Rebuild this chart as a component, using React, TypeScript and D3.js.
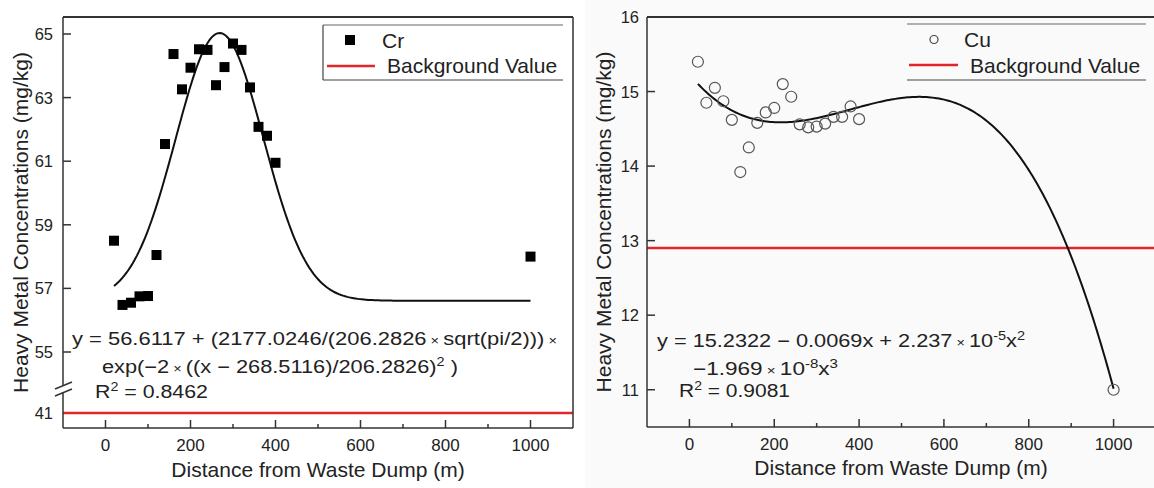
import React from "react";
import * as d3 from "d3";

// ---- Data ----
const crDistance = [20, 40, 60, 80, 100, 120, 140, 160, 180, 200, 220, 240, 260, 280, 300, 320, 340, 360, 380, 400, 1000];
const crValue = [58.5, 56.48, 56.55, 56.75, 56.76, 58.05, 61.54, 64.37, 63.26, 63.94, 64.52, 64.5, 63.39, 63.96, 64.7, 64.5, 63.32, 62.08, 61.8, 60.95, 58.0];
const cuDistance = [20, 40, 60, 80, 100, 120, 140, 160, 180, 200, 220, 240, 260, 280, 300, 320, 340, 360, 380, 400, 1000];
const cuValue = [15.4, 14.85, 15.05, 14.87, 14.62, 13.92, 14.25, 14.58, 14.72, 14.78, 15.1, 14.93, 14.56, 14.52, 14.53, 14.57, 14.66, 14.66, 14.8, 14.63, 11.0];
const xTicks = [0, 200, 400, 600, 800, 1000];
const xMinorTicks = [100, 300, 500, 700, 900];
const crYTicks = [55, 57, 59, 61, 63, 65];
const crLowTicks = [41];
const cuYTicks = [11, 12, 13, 14, 15, 16];
const crBackground = 41;
const cuBackground = 12.9;
// fitted model coefficients (as printed on the chart)
const crFit = [56.6117, 2177.0246, 206.2826, 268.5116];
const cuFit = [15.2322, -0.0069, 2.237e-5, -1.969e-8];
const fitRange = [20, 1000];

const FONT = "'Liberation Sans', Arial, Helvetica, sans-serif";
const TXT = "#222";
const AX = "#333";

function sampleFit(f: (x: number) => number) {
  const pts: [number, number][] = [];
  for (let i = 0; i <= 200; i++) {
    const x = fitRange[0] + ((fitRange[1] - fitRange[0]) * i) / 200;
    pts.push([x, f(x)]);
  }
  return pts;
}

const crModel = (x: number) =>
  crFit[0] + (crFit[1] / (crFit[2] * Math.sqrt(Math.PI / 2))) * Math.exp(-2 * Math.pow((x - crFit[3]) / crFit[2], 2));
const cuModel = (x: number) => cuFit[0] + cuFit[1] * x + cuFit[2] * x * x + cuFit[3] * x * x * x;

function XAxis({ x, y0 }: { x: d3.ScaleLinear<number, number>; y0: number }) {
  return (
    <g>
      {xTicks.map((t) => (
        <g key={t}>
          <line x1={x(t)} x2={x(t)} y1={y0} y2={y0 - 8} stroke={AX} strokeWidth={1.5} />
          <text x={x(t)} y={y0 + 23} textAnchor="middle" fontSize={17} fill={TXT} fontFamily={FONT}>
            {t}
          </text>
        </g>
      ))}
      {xMinorTicks.map((t) => (
        <line key={t} x1={x(t)} x2={x(t)} y1={y0} y2={y0 - 4} stroke={AX} strokeWidth={1.5} />
      ))}
    </g>
  );
}

const sup = (s: string) => (
  <tspan fontSize={12} dy={-7}>
    {s}
  </tspan>
);
const times = <tspan fontSize={12}>{" \u00d7 "}</tspan>;

function LeftPanel() {
  const L = 63, R = 573, T = 17, B = 428;
  const x = d3.scaleLinear().domain([-100, 1100]).range([L, R]);
  const y = d3.scaleLinear().domain([55, 65]).range([352, 34]);
  const yLow = d3.scaleLinear().domain([41, 42]).range([413, 381.2]);
  const line = d3.line<[number, number]>().x((d) => x(d[0])).y((d) => y(d[1]));
  const fit = sampleFit(crModel);
  const s = 10;
  return (
    <g>
      <line x1={L} x2={R} y1={yLow(crBackground)} y2={yLow(crBackground)} stroke="#e0262b" strokeWidth={2.5} />
      <path d={line(fit) || ""} fill="none" stroke="#111" strokeWidth={2} />
      {crDistance.map((d, i) => (
        <rect key={i} x={x(d) - s / 2} y={y(crValue[i]) - s / 2} width={s} height={s} fill="#000" />
      ))}
      <line x1={L} x2={R} y1={T} y2={T} stroke={AX} strokeWidth={2} />
      <line x1={R} x2={R} y1={T} y2={B} stroke={AX} strokeWidth={1.5} />
      <line x1={L} x2={R} y1={B} y2={B} stroke={AX} strokeWidth={1.5} />
      <line x1={L} x2={L} y1={T} y2={385} stroke={AX} strokeWidth={1.5} />
      <line x1={L} x2={L} y1={392} y2={B} stroke={AX} strokeWidth={1.5} />
      <line x1={55} x2={72} y1={389} y2={382} stroke={AX} strokeWidth={1.5} />
      <line x1={55} x2={72} y1={396} y2={389} stroke={AX} strokeWidth={1.5} />
      {crYTicks.map((t) => (
        <g key={t}>
          <line x1={L} x2={L + 8} y1={y(t)} y2={y(t)} stroke={AX} strokeWidth={1.5} />
          <text x={L - 10} y={y(t) + 6} textAnchor="end" fontSize={16.5} fill={TXT} fontFamily={FONT}>
            {t}
          </text>
        </g>
      ))}
      {crLowTicks.map((t) => (
        <text key={t} x={L - 10} y={yLow(t) + 6} textAnchor="end" fontSize={16.5} fill={TXT} fontFamily={FONT}>
          {t}
        </text>
      ))}
      <XAxis x={x} y0={B} />
      {/* legend */}
      <line x1={323} x2={563} y1={25} y2={25} stroke="#666" strokeWidth={1.2} />
      <line x1={323} x2={563} y1={80} y2={80} stroke="#444" strokeWidth={1.2} />
      <line x1={323} x2={323} y1={25} y2={80} stroke="#444" strokeWidth={1.2} />
      <rect x={345} y={35} width={10} height={10} fill="#000" />
      <text x={382} y={48} fontSize={21} fill={TXT} fontFamily={FONT}>Cr</text>
      <line x1={327} x2={375} y1={66} y2={66} stroke="#e0262b" strokeWidth={2.5} />
      <text x={387} y={73} fontSize={21} fill={TXT} fontFamily={FONT}>Background Value</text>
      {/* equation */}
      <g fontSize={18} fill={TXT} fontFamily={FONT}>
        <text x={72} y={345} textLength={485} lengthAdjust="spacingAndGlyphs">
          y = 56.6117 + (2177.0246/(206.2826{times}sqrt(pi/2))){times}
        </text>
        <text x={102} y={373} textLength={356} lengthAdjust="spacingAndGlyphs">
          exp(−2{times}((x − 268.5116)/206.2826){sup("2")}<tspan dy={7}> )</tspan>
        </text>
        <text x={95} y={398} textLength={113} lengthAdjust="spacingAndGlyphs">
          R{sup("2")}<tspan dy={7}> = 0.8462</tspan>
        </text>
      </g>
      <text x={(L + R) / 2} y={477} textAnchor="middle" fontSize={21} fill={TXT} fontFamily={FONT}>
        Distance from Waste Dump (m)
      </text>
      <text transform={`translate(28,${(T + B) / 2}) rotate(-90)`} textAnchor="middle" fontSize={21} fill={TXT} fontFamily={FONT}>
        Heavy Metal Concentrations (mg/kg)
      </text>
    </g>
  );
}

function RightPanel() {
  const L = 647, R = 1156, T = 17, B = 427;
  const x = d3.scaleLinear().domain([-100, 1100]).range([L, R]);
  const y = d3.scaleLinear().domain([10.5, 16]).range([B, T]);
  const line = d3.line<[number, number]>().x((d) => x(d[0])).y((d) => y(d[1]));
  const fit = sampleFit(cuModel);
  return (
    <g>
      <rect x={585} y={0} width={1154 - 585} height={488} fill="#fafafa" />
      <line x1={L} x2={R} y1={y(cuBackground)} y2={y(cuBackground)} stroke="#e0262b" strokeWidth={2.5} />
      <path d={line(fit) || ""} fill="none" stroke="#111" strokeWidth={2} />
      {cuDistance.map((d, i) => (
        <circle key={i} cx={x(d)} cy={y(cuValue[i])} r={5.5} fill="none" stroke="#555" strokeWidth={1.2} />
      ))}
      <line x1={L} x2={R} y1={T} y2={T} stroke={AX} strokeWidth={2} />
      <line x1={L} x2={R} y1={B} y2={B} stroke={AX} strokeWidth={1.5} />
      <line x1={L} x2={L} y1={T} y2={B} stroke={AX} strokeWidth={1.5} />
      {cuYTicks.map((t) => (
        <g key={t}>
          <line x1={L} x2={L + 8} y1={y(t)} y2={y(t)} stroke={AX} strokeWidth={1.5} />
          <text x={L - 8} y={y(t) + 6} textAnchor="end" fontSize={16.5} fill={TXT} fontFamily={FONT}>
            {t}
          </text>
        </g>
      ))}
      <XAxis x={x} y0={B} />
      {/* legend */}
      <line x1={907} x2={1146} y1={24} y2={24} stroke="#666" strokeWidth={1.2} />
      <line x1={907} x2={1146} y1={80} y2={80} stroke="#444" strokeWidth={1.2} />
      <circle cx={934} cy={39.5} r={4} fill="none" stroke="#444" strokeWidth={1.2} />
      <text x={964} y={47} fontSize={21} fill={TXT} fontFamily={FONT}>Cu</text>
      <line x1={909} x2={958} y1={65} y2={65} stroke="#e0262b" strokeWidth={2.5} />
      <text x={970} y={73} fontSize={21} fill={TXT} fontFamily={FONT}>Background Value</text>
      {/* equation */}
      <g fontSize={18} fill={TXT} fontFamily={FONT}>
        <text x={657} y={347} textLength={368} lengthAdjust="spacingAndGlyphs">
          y = 15.2322 − 0.0069x + 2.237{times}10<tspan fontSize={12} dy={-7}>-5</tspan>
          <tspan dy={7}>x</tspan>
          {sup("2")}
        </text>
        <text x={693} y={375} textLength={145} lengthAdjust="spacingAndGlyphs">
          −1.969{times}10<tspan fontSize={12} dy={-7}>-8</tspan>
          <tspan dy={7}>x</tspan>
          {sup("3")}
        </text>
        <text x={679} y={397} textLength={111} lengthAdjust="spacingAndGlyphs">
          R{sup("2")}<tspan dy={7}> = 0.9081</tspan>
        </text>
      </g>
      <text x={901} y={475} textAnchor="middle" fontSize={21} fill={TXT} fontFamily={FONT}>
        Distance from Waste Dump (m)
      </text>
      <text transform={`translate(611,${(T + B) / 2}) rotate(-90)`} textAnchor="middle" fontSize={21} fill={TXT} fontFamily={FONT}>
        Heavy Metal Concentrations (mg/kg)
      </text>
    </g>
  );
}

export default function App() {
  return (
    <svg width={1154} height={488} style={{ position: "absolute", left: 0, top: 0, background: "#fff" }}>
      <rect width={1154} height={488} fill="#fff" />
      <LeftPanel />
      <RightPanel />
    </svg>
  );
}
